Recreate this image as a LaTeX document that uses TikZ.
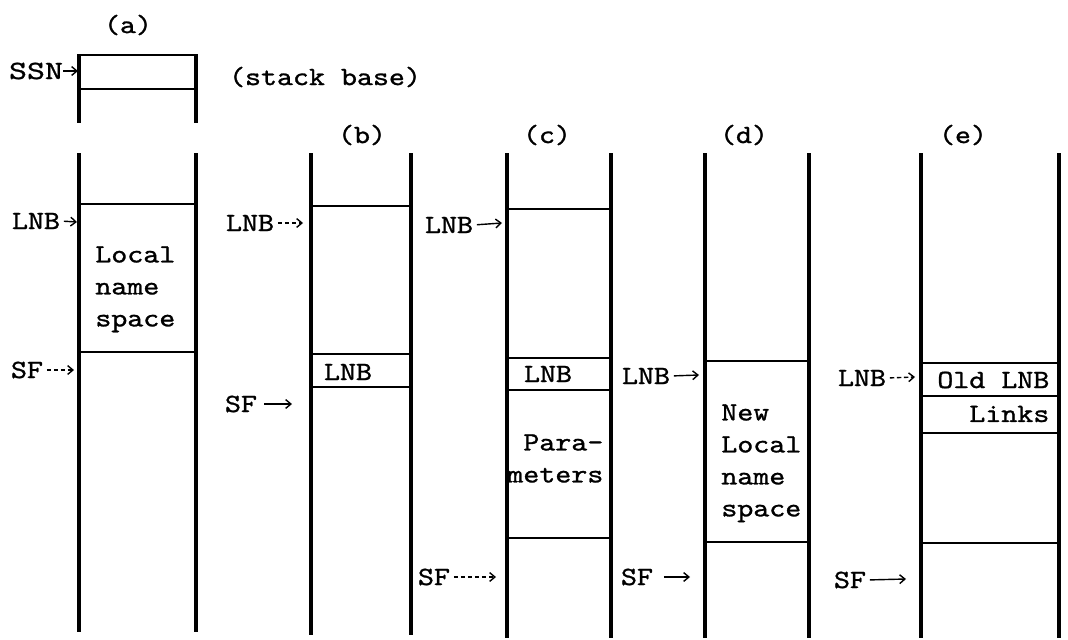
\documentclass[tikz,border=0pt]{standalone}
\usepackage{fontspec}
\usepackage{graphicx}
\usetikzlibrary{arrows.meta}
\newfontfamily\twf{lmmono10-regular.otf}[FakeBold=1.0]
\newcommand{\tw}[1]{\scalebox{1.156}[1]{#1}}
\begin{document}
\begin{tikzpicture}[x=0.02cm,y=-0.02cm,
  col/.style={line width=2.1pt},
  hl/.style={line width=1.6pt},
  lbl/.style={font=\twf\fontsize{15}{18.2}\selectfont, inner sep=0pt},
  txt/.style={lbl, align=left, anchor=north west},
  ptr/.style={line width=0.8pt, shorten <=2pt, -{Straight Barb[length=3pt,width=5pt]}},
  dptr/.style={ptr, dash pattern=on 2.5pt off 1.5pt},
]
\useasboundingbox (0,0) rectangle (1068,639);

% ---------- column (a)
\draw[hl] (79,55) -- (196,55);
\draw[hl] (79,89) -- (196,89);
\draw[col] (79,54) -- (79,123);
\draw[col] (196,54) -- (196,123);
\draw[col] (79,153) -- (79,632);
\draw[col] (196,153) -- (196,632);
\draw[hl] (79,204) -- (196,204);
\draw[hl] (79,352) -- (196,352);

% ---------- column (b)
\draw[col] (311,153) -- (311,635);
\draw[col] (411,153) -- (411,635);
\draw[hl] (311,206) -- (411,206);
\draw[hl] (311,354) -- (411,354);
\draw[hl] (311,387) -- (411,387);

% ---------- column (c)
\draw[col] (507,153) -- (507,638);
\draw[col] (611,153) -- (611,638);
\draw[hl] (507,209) -- (611,209);
\draw[hl] (507,358) -- (611,358);
\draw[hl] (507,390) -- (611,390);
\draw[hl] (507,538) -- (611,538);

% ---------- column (d)
\draw[col] (705,153) -- (705,638);
\draw[col] (809,153) -- (809,638);
\draw[hl] (705,361) -- (809,361);
\draw[hl] (705,542) -- (809,542);

% ---------- column (e)
\draw[col] (921,153) -- (921,638);
\draw[col] (1059,153) -- (1059,638);
\draw[hl] (921,363) -- (1059,363);
\draw[hl] (921,396) -- (1059,396);
\draw[hl] (921,433) -- (1059,433);
\draw[hl] (921,543) -- (1059,543);

% ---------- titles
\node[lbl] (ta) at (128,25) {\tw{(a)}};
\node[lbl] (tb) at (362,135) {\tw{(b)}};
\node[lbl] (tc) at (547,135) {\tw{(c)}};
\node[lbl] (td) at (744,135) {\tw{(d)}};
\node[lbl] (te) at (963,135) {\tw{(e)}};
\node[lbl] (base) at (325,77) {\tw{(stack base)}};

% ---------- texts inside the stacks
\node[txt] (lnsa) at (95,246) {\tw{Local}\\\tw{name}\\\tw{space}};
\node[lbl] (olnb) at (348,372) {\tw{LNB}};
\node[lbl] (olnc) at (548,374) {\tw{LNB}};
\node[txt] (parc) at (507,434) {\tw{\phantom{m}Para-}\\\tw{meters}};
\node[txt] (lnsd) at (721,404) {\tw{New}\\\tw{Local}\\\tw{name}\\\tw{space}};
\node[lbl, anchor=west] (olde) at (937,380) {\tw{Old LNB}};
\node[lbl, anchor=west] (linke) at (969,414) {\tw{Links}};

% ---------- pointers
\node[lbl] (ssn) at (36,71) {\scalebox{1.3}[1]{SSN}};
\coordinate (ssnT) at (78,71);
\draw[ptr, shorten <=0pt] (ssn.east) -- (ssnT);

\node[lbl] (lnbA) at (36,221) {\tw{LNB}};
\coordinate (lnbAT) at (77,222);
\draw[ptr] (lnbA.east) -- (lnbAT);
\node[lbl] (sfA) at (27,370) {\tw{SF}};
\coordinate (sfAT) at (74,370);
\draw[dptr] (sfA.east) -- (sfAT);

\node[lbl] (lnbB) at (250,223) {\tw{LNB}};
\coordinate (lnbBT) at (303,223);
\draw[dptr] (lnbB.east) -- (lnbBT);
\node[lbl] (sfB) at (241,404) {\tw{SF}};
\coordinate (sfBT) at (292,404);
\draw[ptr, shorten <=4pt] (sfB.east) -- (sfBT);

\node[lbl] (lnbC) at (449,225) {\tw{LNB}};
\coordinate (lnbCT) at (502,223);
\draw[ptr] (lnbC.east) -- (lnbCT);
\node[lbl] (sfC) at (434,577) {\tw{SF}};
\coordinate (sfCT) at (496,577);
\draw[dptr] (sfC.east) -- (sfCT);

\node[lbl] (lnbD) at (646,376) {\tw{LNB}};
\coordinate (lnbDT) at (699,375);
\draw[ptr] (lnbD.east) -- (lnbDT);
\node[lbl] (sfD) at (637,577) {\tw{SF}};
\coordinate (sfDT) at (690,577);
\draw[ptr, shorten <=6pt] (sfD.east) -- (sfDT);

\node[lbl] (lnbE) at (862,378) {\tw{LNB}};
\coordinate (lnbET) at (915,377);
\draw[dptr] (lnbE.east) -- (lnbET);
\node[lbl] (sfE) at (850,580) {\tw{SF}};
\coordinate (sfET) at (906,579);
\draw[ptr] (sfE.east) -- (sfET);
\end{tikzpicture}
\end{document}
